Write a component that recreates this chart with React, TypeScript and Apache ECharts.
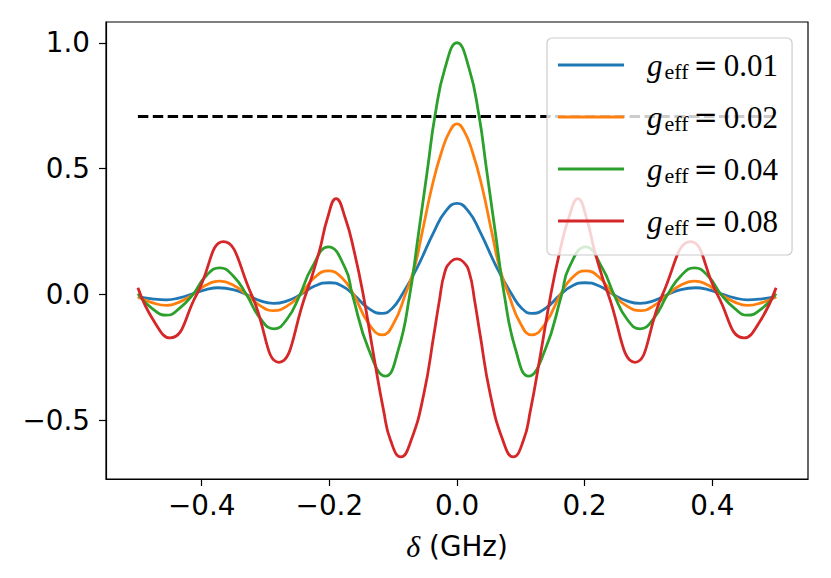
import React, { useEffect, useRef } from "react";
import * as echarts from "echarts";

// ---- data ----
const legendNames = ["0.01", "0.02", "0.04", "0.08"];
const colors = ["#1f77b4", "#ff7f0e", "#2ca02c", "#d62728"];

const blueX = [-0.5, -0.478, -0.455, -0.435, -0.414, -0.393, -0.374, -0.351, -0.33, -0.308, -0.287, -0.266, -0.245, -0.223, -0.2, -0.181, -0.162, -0.139, -0.117, -0.101, -0.086, -0.063, -0.036, -0.018, 0,
  0.018, 0.036, 0.063, 0.086, 0.101, 0.117, 0.139, 0.162, 0.181, 0.2, 0.223, 0.245, 0.266, 0.287, 0.308, 0.33, 0.351, 0.374, 0.393, 0.414, 0.435, 0.455, 0.478, 0.5];
const blueY = [-0.008, -0.017, -0.021, -0.013, 0.003, 0.02, 0.027, 0.02, 0, -0.025, -0.035, -0.025, 0, 0.034, 0.047, 0.035, 0, -0.054, -0.075, -0.053, 0, 0.104, 0.25, 0.33, 0.362,
  0.33, 0.25, 0.104, 0, -0.053, -0.075, -0.054, 0, 0.035, 0.047, 0.034, 0, -0.025, -0.035, -0.025, 0, 0.02, 0.027, 0.02, 0.003, -0.013, -0.021, -0.017, -0.008];

const orangeX = [-0.5, -0.478, -0.455, -0.435, -0.414, -0.393, -0.371, -0.351, -0.33, -0.308, -0.287, -0.266, -0.245, -0.224, -0.2016, -0.18, -0.162, -0.139, -0.117, -0.099, -0.081, -0.067, -0.0554, -0.0386, -0.024, -0.011, 0,
  0.011, 0.024, 0.0386, 0.0554, 0.067, 0.081, 0.099, 0.117, 0.139, 0.162, 0.18, 0.2016, 0.224, 0.245, 0.266, 0.287, 0.308, 0.33, 0.351, 0.371, 0.393, 0.414, 0.435, 0.455, 0.478, 0.5];
const orangeY = [-0.01, -0.032, -0.043, -0.03, 0, 0.038, 0.053, 0.038, 0, -0.045, -0.064, -0.045, 0, 0.066, 0.094, 0.066, 0, -0.113, -0.16, -0.113, 0, 0.104, 0.237, 0.435, 0.568, 0.65, 0.678,
  0.65, 0.568, 0.435, 0.237, 0.104, 0, -0.113, -0.16, -0.113, 0, 0.066, 0.094, 0.066, 0, -0.045, -0.064, -0.045, 0, 0.038, 0.053, 0.038, 0, -0.03, -0.043, -0.032, -0.01];

const greenX = [-0.5, -0.478, -0.455, -0.435, -0.414, -0.393, -0.372, -0.351, -0.33, -0.308, -0.287, -0.266, -0.246, -0.228, -0.2016, -0.175, -0.164, -0.138, -0.112, -0.092, -0.074, -0.0606, -0.046, -0.0345, -0.0188, 0,
  0.0188, 0.0345, 0.046, 0.0606, 0.074, 0.092, 0.112, 0.138, 0.164, 0.175, 0.2016, 0.228, 0.246, 0.266, 0.287, 0.308, 0.33, 0.351, 0.372, 0.393, 0.414, 0.435, 0.455, 0.478, 0.5];
const greenY = [0.003, -0.055, -0.082, -0.055, 0, 0.075, 0.106, 0.075, 0, -0.096, -0.136, -0.096, 0, 0.104, 0.189, 0.104, 0, -0.22, -0.324, -0.22, 0, 0.237, 0.502, 0.71, 0.899, 1.0,
  0.899, 0.71, 0.502, 0.237, 0, -0.22, -0.324, -0.22, 0, 0.104, 0.189, 0.104, 0, -0.096, -0.136, -0.096, 0, 0.075, 0.106, 0.075, 0, -0.055, -0.082, -0.055, 0.003];

const redX = [-0.5, -0.475, -0.45, -0.408, -0.366, -0.322, -0.279, -0.237, -0.216, -0.203, -0.1895, -0.175, -0.161, -0.147, -0.13, -0.115, -0.104, -0.088, -0.072, -0.052, -0.036, -0.028, -0.019, -0.009, 0,
  0.009, 0.019, 0.028, 0.036, 0.052, 0.072, 0.088, 0.104, 0.115, 0.13, 0.147, 0.161, 0.175, 0.1895, 0.203, 0.216, 0.237, 0.279, 0.322, 0.366, 0.408, 0.45, 0.475, 0.5];
const redY = [0.027, -0.105, -0.172, 0, 0.21, 0, -0.269, 0, 0.17, 0.303, 0.381, 0.303, 0.17, 0, -0.25, -0.461, -0.58, -0.645, -0.58, -0.395, -0.156, -0.03, 0.09, 0.132, 0.142,
  0.132, 0.09, -0.03, -0.156, -0.395, -0.58, -0.645, -0.58, -0.461, -0.25, 0, 0.17, 0.303, 0.381, 0.303, 0.17, 0, -0.269, 0, 0.21, 0, -0.172, -0.105, 0.027];

const dashX = [-0.5, 0.5];
const dashY = [0.7071, 0.7071];

const xTicks = [-0.4, -0.2, 0, 0.2, 0.4];
const yTicks = [-0.5, 0, 0.5, 1.0];

const xsList = [blueX, orangeX, greenX, redX];
const ysList = [blueY, orangeY, greenY, redY];

const fmt = (v: number) => v.toFixed(1).replace("-", "\u2212");

export default function App() {
  const ref = useRef<HTMLDivElement>(null);
  useEffect(() => {
    if (!ref.current) return;
    const chart = echarts.init(ref.current, undefined, { renderer: "svg" });
    const curveSeries = legendNames.map((name, i) => ({
      name,
      type: "line",
      data: xsList[i].map((x, j) => [x, ysList[i][j]]),
      showSymbol: false,
      smooth: 0.5,
      color: colors[i],
      itemStyle: { color: colors[i] },
      lineStyle: { color: colors[i], width: 2.8 },
      z: 2 + i * 0.01,
    }));
    const axisLine = { show: true, onZero: false, lineStyle: { color: "#000", width: 1.2 } };
    const option: any = {
      animation: false,
      grid: {
        left: 106,
        right: 23,
        top: 22,
        bottom: 99,
        show: true,
        borderColor: "#000",
        borderWidth: 1.2,
        backgroundColor: "transparent",
      },
      xAxis: {
        type: "value",
        min: -0.55,
        max: 0.55,
        axisLine,
        splitLine: { show: false },
        axisTick: {
          show: true,
          length: 7,
          customValues: xTicks,
          lineStyle: { color: "#000", width: 1.2 },
        },
        axisLabel: {
          customValues: xTicks,
          formatter: fmt,
          margin: 12,
          color: "#000",
          fontFamily: "DejaVu Sans",
          fontSize: 27.8,
        },
        name: "{d|\u03b4} (GHz)",
        nameLocation: "middle",
        nameGap: 52,
        nameTextStyle: {
          color: "#000",
          fontFamily: "DejaVu Sans",
          fontSize: 27.8,
          rich: {
            d: {
              fontFamily: "Liberation Serif",
              fontStyle: "italic",
              fontSize: 30,
              color: "#000",
            },
          },
        },
      },
      yAxis: {
        type: "value",
        min: -0.7325,
        max: 1.0825,
        axisLine,
        splitLine: { show: false },
        axisTick: {
          show: true,
          length: 7,
          customValues: yTicks,
          lineStyle: { color: "#000", width: 1.2 },
        },
        axisLabel: {
          customValues: yTicks,
          formatter: fmt,
          margin: 16,
          color: "#000",
          fontFamily: "DejaVu Sans",
          fontSize: 27.8,
        },
      },
      legend: {
        data: legendNames,
        orient: "vertical",
        left: 547,
        top: 38,
        padding: [10, 14, 17, 11],
        itemGap: 18,
        itemWidth: 66,
        itemHeight: 3,
        icon: "rect",
        backgroundColor: "rgba(255,255,255,0.8)",
        borderColor: "#cccccc",
        borderWidth: 1.2,
        borderRadius: 5,
        selectedMode: false,
        formatter: (name: string) => `{g|g}{s|eff}{q|=}{v|${name}}`,
        textStyle: {
          color: "#000",
          rich: {
            g: {
              fontFamily: "Liberation Serif",
              fontStyle: "italic",
              fontSize: 31,
              lineHeight: 30,
              padding: [0, 0, 0, 18],
              color: "#000",
            },
            s: {
              fontFamily: "Liberation Serif",
              fontSize: 22,
              lineHeight: 14,
              padding: [12, 0, 0, 2],
              color: "#000",
            },
            q: {
              fontFamily: "DejaVu Serif",
              fontSize: 29,
              lineHeight: 30,
              padding: [0, 6, 0, 5],
              color: "#000",
            },
            v: {
              fontFamily: "Liberation Serif",
              fontSize: 31,
              lineHeight: 30,
              color: "#000",
            },
          },
        },
      },
      series: [
        ...curveSeries,
        {
          name: "dashed",
          type: "line",
          data: dashX.map((x, j) => [x, dashY[j]]),
          showSymbol: false,
          color: "#000",
          lineStyle: { color: "#000", width: 2.8, type: [10.4, 4.5] },
          z: 3,
        },
      ],
    };
    chart.setOption(option);
    return () => chart.dispose();
  }, []);
  return (
    <div
      ref={ref}
      style={{ position: "absolute", left: 0, top: 0, width: 831, height: 578, background: "#fff" }}
    />
  );
}
